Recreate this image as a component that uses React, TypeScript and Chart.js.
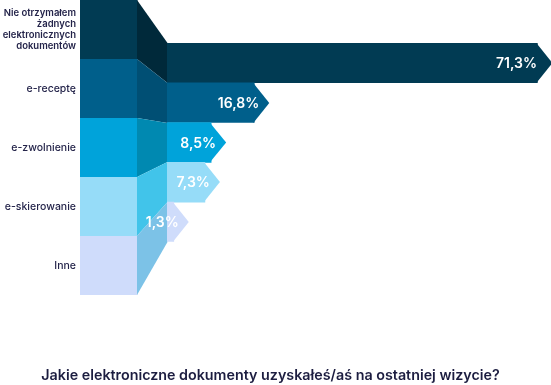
import React, { useEffect, useRef } from 'react';
import { Chart, registerables } from 'chart.js';
Chart.register(...registerables);

const categories: (string | string[])[] = [
  ['Nie otrzymałem', 'żadnych', 'elektronicznych', 'dokumentów'],
  'e-receptę',
  'e-zwolnienie',
  'e-skierowanie',
  'Inne',
];
const values = [71.3, 16.8, 8.5, 7.3, 1.3];
const barColors = ['#013b53', '#005f8b', '#00a3da', '#96dcf8', '#cfdcfb'];
const foldColors = ['#00293a', '#004f74', '#0089b1', '#41c4ea', '#7cc2e7'];
const titleText = 'Jakie elektroniczne dokumenty uzyskałeś/aś na ostatniej wizycie?';

const FONT = 'Inter';
// vertical band of the arrow bars inside the label column (fractions of plot height)
const BAR_BAND = { top: 43 / 295, bottom: 242 / 295 };
const fmt = (v: number) => v.toFixed(1).replace('.', ',') + '%';

const decor = {
  id: 'decor',
  afterLayout(chart: any) {
    const y = chart.scales.y;
    const a = chart.chartArea;
    const h = a.bottom - a.top;
    y.top = a.top + h * BAR_BAND.top;
    y.bottom = a.top + h * BAR_BAND.bottom;
    y.height = y.bottom - y.top;
    y.configure();
  },
  beforeDatasetsDraw(chart: any) {
    const ctx = chart.ctx;
    const yL = chart.scales.yL;
    const area = chart.chartArea;
    const n = values.length;
    const lh = (yL.bottom - yL.top) / n;
    const meta = chart.getDatasetMeta(0);
    const blockL = area.left - 87;
    const foldL = area.left - 30;
    const foldR = area.left;
    ctx.save();
    for (let i = 0; i < n; i++) {
      const cy = yL.getPixelForTick(i);
      const lt = Math.round(cy - lh / 2);
      const lb = Math.round(cy + lh / 2);
      const bar = meta.data[i];
      const rt = Math.round(bar.y - bar.height / 2);
      const rb = Math.round(bar.y + bar.height / 2);
      ctx.fillStyle = barColors[i];
      ctx.fillRect(blockL, lt, foldL - blockL + 0.5, lb - lt);
      ctx.fillStyle = foldColors[i];
      ctx.beginPath();
      ctx.moveTo(foldL, lt);
      ctx.lineTo(foldR + 0.5, rt);
      ctx.lineTo(foldR + 0.5, rb);
      ctx.lineTo(foldL, lb);
      ctx.closePath();
      ctx.fill();
    }
    ctx.restore();
  },
  afterDatasetsDraw(chart: any) {
    const ctx = chart.ctx;
    const area = chart.chartArea;
    const meta = chart.getDatasetMeta(0);
    ctx.save();
    for (let i = 0; i < values.length; i++) {
      const bar = meta.data[i];
      const top = Math.round(bar.y - bar.height / 2);
      const bot = Math.round(bar.y + bar.height / 2);
      const tip = 15;
      ctx.fillStyle = barColors[i];
      ctx.beginPath();
      ctx.moveTo(bar.x - 1, top);
      ctx.lineTo(bar.x + tip, (top + bot) / 2);
      ctx.lineTo(bar.x - 1, bot);
      ctx.closePath();
      ctx.fill();
    }
    ctx.font = `600 14px ${FONT}`;
    ctx.fillStyle = '#ffffff';
    ctx.textAlign = 'right';
    ctx.textBaseline = 'middle';
    for (let i = 0; i < values.length; i++) {
      const bar = meta.data[i];
      const x = Math.min(bar.x + 5, area.right - 4);
      ctx.fillText(fmt(values[i]), x, bar.y + 1);
    }
    ctx.restore();
  },
};

export default function App() {
  const ref = useRef<HTMLCanvasElement>(null);
  useEffect(() => {
    if (!ref.current) return;
    const chart = new Chart(ref.current, {
      type: 'bar',
      data: {
        labels: categories as any,
        datasets: [
          {
            data: values,
            backgroundColor: barColors,
            borderWidth: 0,
            barPercentage: 1,
            categoryPercentage: 1,
            yAxisID: 'y',
            xAxisID: 'x',
          },
        ],
      },
      options: {
        indexAxis: 'y',
        responsive: false,
        animation: false,
        layout: { padding: { top: 0, right: 10, bottom: 0, left: 0 } },
        scales: {
          x: { type: 'linear', min: 0, max: 72, display: false },
          y: {
            type: 'category',
            display: false,
            position: 'left',
            offset: true,
          },
          yL: {
            type: 'category',
            labels: categories as any,
            position: 'left',
            offset: true,
            grid: { display: false, drawTicks: false },
            border: { display: false },
            ticks: {
              padding: 91,
              color: '#24244a',
              autoSkip: false,
              font: (c: any) =>
                c.index === 0
                  ? { family: FONT, size: 9.5, weight: '600', lineHeight: 1.15 }
                  : { family: FONT, size: 10.5, weight: '500' },
            },
            afterFit: (s: any) => {
              s.width = 167;
              s.paddingTop = 0;
              s.paddingBottom = 0;
            },
          },
        } as any,
        plugins: {
          legend: { display: false },
          tooltip: { enabled: false },
          title: {
            display: true,
            text: titleText,
            position: 'bottom',
            color: '#1c1d40',
            font: { family: FONT, size: 14.3, weight: '600' },
            padding: { top: 72, bottom: 1 },
          },
        },
      } as any,
      plugins: [decor],
    });
    return () => chart.destroy();
  }, []);
  return (
    <div style={{ position: 'absolute', left: 0, top: 0, width: 551, height: 385 }}>
      <canvas ref={ref} width={551} height={385} style={{ display: 'block' }} />
    </div>
  );
}
